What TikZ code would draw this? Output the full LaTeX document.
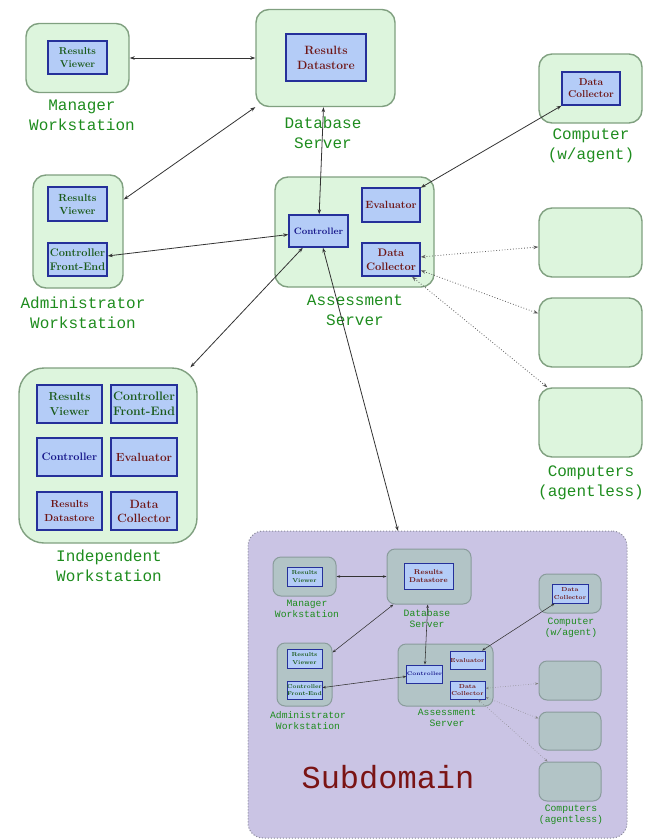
\documentclass[tikz,border=0pt]{standalone}
\usepackage{fontspec}
\newfontfamily\labelfont{Liberation Mono}
\usetikzlibrary{arrows.meta}

\definecolor{outerfill}{HTML}{DDF5DD}
\definecolor{outerline}{HTML}{80A080}
\definecolor{innerfill}{HTML}{B4CCF7}
\definecolor{innerline}{HTML}{25309A}
\definecolor{subfill}{HTML}{CAC4E4}
\definecolor{subline}{HTML}{8A8A9A}
\definecolor{subouterfill}{HTML}{B2C4C6}
\definecolor{subouterline}{HTML}{8A9C9C}
\definecolor{lblgreen}{HTML}{1E8C1E}
\definecolor{txtgreen}{HTML}{1A5A1A}
\definecolor{txtblue}{HTML}{16168A}
\definecolor{txtred}{HTML}{6E1616}
\definecolor{bigred}{HTML}{7A1414}
\definecolor{wire}{HTML}{333333}

\newcommand\fsz[2]{\fontsize{#1}{#2}\selectfont}

\tikzset{
  outer/.style={draw=outerline, fill=outerfill, line width=1.4pt, rounded corners=13pt, inner sep=0pt},
  subouter/.style={draw=subouterline, fill=subouterfill, line width=1pt, rounded corners=8pt, inner sep=0pt},
  innerbox/.style={draw=innerline, fill=innerfill, line width=1.4pt, inner sep=0pt, align=center},
  sinnerbox/.style={draw=innerline, fill=innerfill, line width=0.9pt, inner sep=0pt, align=center},
  lbl/.style={text=lblgreen, align=center, inner sep=0pt, font=\labelfont\fsz{16}{20}},
  slbl/.style={text=lblgreen, align=center, inner sep=0pt, font=\labelfont\fsz{9.7}{11.2}},
  conn/.style={draw=wire, line width=0.8pt, {Stealth[length=5pt,width=3.5pt]}-{Stealth[length=5pt,width=3.5pt]}},
  dconn/.style={conn, draw=wire!80, dotted},
  sconn/.style={draw=wire, line width=0.55pt, {Stealth[length=3.5pt,width=2.5pt]}-{Stealth[length=3.5pt,width=2.5pt]}},
  sdconn/.style={sconn, draw=wire!60, dotted},
}

\begin{document}
\begin{tikzpicture}[x=1pt,y=-1pt]
\useasboundingbox (0,0) rectangle (646,839);

% ---------------- main network ----------------
% Manager workstation
\node[outer, minimum width=103pt, minimum height=69pt] (mgr) at (77.5,58) {};
\node[innerbox, minimum width=59pt, minimum height=33pt, text=txtgreen, font=\bfseries\fsz{10}{13}] (mgrrv) at (77.5,57.5) {Results\\Viewer};
\node[lbl] (mgrlbl) at (82,115) {Manager\\Workstation};

% Database server
\node[outer, minimum width=139pt, minimum height=97pt] (db) at (325.5,58) {};
\node[innerbox, minimum width=80pt, minimum height=47pt, text=txtred, font=\bfseries\fsz{12}{15}] (dbrd) at (326,57.5) {Results\\Datastore};
\node[lbl] (dblbl) at (323,133) {Database\\Server};

% Administrator workstation
\node[outer, minimum width=90pt, minimum height=113pt] (adm) at (78,231.5) {};
\node[innerbox, minimum width=59pt, minimum height=34pt, text=txtgreen, font=\bfseries\fsz{10.3}{13}] (admrv) at (77.5,204) {Results\\Viewer};
\node[innerbox, minimum width=59pt, minimum height=33pt, text=txtgreen, font=\bfseries\fsz{11}{14}] (admcfe) at (77.5,259.5) {Controller\\Front-End};
\node[lbl] (admlbl) at (83,313) {Administrator\\Workstation};

% Assessment server
\node[outer, minimum width=159pt, minimum height=110pt] (as) at (354.5,232) {};
\node[innerbox, minimum width=59pt, minimum height=32pt, text=txtblue, font=\bfseries\fsz{9.3}{12}] (asc) at (318.5,231) {Controller};
\node[innerbox, minimum width=58pt, minimum height=34pt, text=txtred, font=\bfseries\fsz{10.5}{13}] (ase) at (391,205) {Evaluator};
\node[innerbox, minimum width=58pt, minimum height=33pt, text=txtred, font=\bfseries\fsz{10.9}{14}] (asdc) at (391,259.5) {Data\\Collector};
\node[lbl] (aslbl) at (355,310) {Assessment\\Server};

% Computer with agent
\node[outer, minimum width=103pt, minimum height=69pt] (cw) at (590.5,88.5) {};
\node[innerbox, minimum width=58pt, minimum height=33pt, text=txtred, font=\bfseries\fsz{10}{12}] (cwdc) at (591,88.5) {Data\\Collector};
\node[lbl] (cwlbl) at (591,146) {Computer\\(w/agent)};

% Agentless computers
\node[outer, minimum width=103pt, minimum height=69pt] (al1) at (590.5,242.5) {};
\node[outer, minimum width=103pt, minimum height=69pt] (al2) at (590.5,332.5) {};
\node[outer, minimum width=103pt, minimum height=69pt] (al3) at (590.5,422.5) {};
\node[lbl] (allbl) at (591,483) {Computers\\(agentless)};

% Independent workstation
\node[outer, rounded corners=25pt, minimum width=178pt, minimum height=175pt] (ind) at (108,455.5) {};
\node[innerbox, minimum width=65pt, minimum height=38pt, text=txtgreen, font=\bfseries\fsz{11.6}{15}] (indrv) at (69.5,404) {Results\\Viewer};
\node[innerbox, minimum width=66pt, minimum height=38pt, text=txtgreen, font=\bfseries\fsz{12.3}{15}] (indcfe) at (144,404) {Controller\\Front-End};
\node[innerbox, minimum width=65pt, minimum height=38pt, text=txtblue, font=\bfseries\fsz{10.8}{14}] (indc) at (69.5,457) {Controller};
\node[innerbox, minimum width=66pt, minimum height=38pt, text=txtred, font=\bfseries\fsz{11.8}{14}] (inde) at (144,457) {Evaluator};
\node[innerbox, minimum width=65pt, minimum height=38pt, text=txtred, font=\bfseries\fsz{10.2}{14}] (indrd) at (69.5,511) {Results\\Datastore};
\node[innerbox, minimum width=66pt, minimum height=38pt, text=txtred, font=\bfseries\fsz{12}{14}] (inddc) at (144,511) {Data\\Collector};
\node[lbl] (indlbl) at (109,565.5) {Independent\\Workstation};

% ---------------- subdomain ----------------
\node[draw=subline, fill=subfill, dotted, line width=1pt, rounded corners=15pt,
      minimum width=379pt, minimum height=307pt, inner sep=0pt] (sub) at (437.5,684.5) {};
\coordinate (subin) at (398,531);
\node[text=bigred, inner sep=0pt, font=\labelfont\fsz{32}{36}] (subname) at (388,777) {Subdomain};

\node[subouter, minimum width=63pt, minimum height=39pt] (smgr) at (304.5,576.5) {};
\node[sinnerbox, minimum width=35pt, minimum height=19pt, text=txtgreen, font=\bfseries\fsz{5.8}{7.5}] (smgrrv) at (304.5,576.5) {Results\\Viewer};
\node[slbl] (smgrlbl) at (307,608.5) {Manager\\Workstation};

\node[subouter, minimum width=84pt, minimum height=55pt] (sdb) at (429,576.5) {};
\node[sinnerbox, minimum width=49pt, minimum height=26pt, text=txtred, font=\bfseries\fsz{7}{8.5}] (sdbrd) at (428.5,576) {Results\\Datastore};
\node[slbl] (sdblbl) at (427,618.5) {Database\\Server};

\node[subouter, minimum width=62pt, minimum height=39pt] (scw) at (570,593.5) {};
\node[sinnerbox, minimum width=36pt, minimum height=19pt, text=txtred, font=\bfseries\fsz{5.8}{7.5}] (scwdc) at (570,593.5) {Data\\Collector};
\node[slbl] (scwlbl) at (571,627.5) {Computer\\(w/agent)};

\node[subouter, minimum width=55pt, minimum height=63pt] (sadm) at (304.5,674.5) {};
\node[sinnerbox, minimum width=35pt, minimum height=19pt, text=txtgreen, font=\bfseries\fsz{5.8}{7.5}] (sadmrv) at (304.5,658.5) {Results\\Viewer};
\node[sinnerbox, minimum width=35pt, minimum height=18pt, text=txtgreen, font=\bfseries\fsz{5.6}{7.5}] (sadmcfe) at (304.5,690) {Controller\\Front-End};
\node[slbl] (sadmlbl) at (308,720.5) {Administrator\\Workstation};

\node[subouter, minimum width=95pt, minimum height=62pt] (sas) at (445.5,675) {};
\node[sinnerbox, minimum width=35pt, minimum height=18pt, text=txtblue, font=\bfseries\fsz{5.2}{7}] (sasc) at (424.5,674) {Controller};
\node[sinnerbox, minimum width=35pt, minimum height=18pt, text=txtred, font=\bfseries\fsz{5.8}{7}] (sase) at (467.5,660) {Evaluator};
\node[sinnerbox, minimum width=35pt, minimum height=18pt, text=txtred, font=\bfseries\fsz{5.8}{7.5}] (sasdc) at (467.5,690) {Data\\Collector};
\node[slbl] (saslbl) at (447,718) {Assessment\\Server};

\node[subouter, minimum width=62pt, minimum height=39pt] (sal1) at (570,680.5) {};
\node[subouter, minimum width=62pt, minimum height=38pt] (sal2) at (570,731) {};
\node[subouter, minimum width=62pt, minimum height=39pt] (sal3) at (570,781.5) {};
\node[slbl] (sallbl) at (571,815) {Computers\\(agentless)};

% ---------------- connectors ----------------
\draw[conn] (mgr) -- (db);
\draw[conn] (db) -- (adm);
\draw[conn] (db) -- (asc);
\draw[conn] (admcfe) -- (asc);
\draw[conn] (cwdc) -- (ase);
\draw[conn] (asc) -- (ind);
\draw[conn] (asc) -- (subin);
\draw[dconn] (asdc) -- (al1);
\draw[dconn] (asdc) -- (al2);
\draw[dconn] (asdc) -- (al3);

\draw[sconn] (smgr) -- (sdb);
\draw[sconn] (sdb) -- (sadm);
\draw[sconn] (sdb) -- (sasc);
\draw[sconn] (sadmcfe) -- (sasc);
\draw[sconn] (scwdc) -- (sase);
\draw[sdconn] (sasdc) -- (sal1);
\draw[sdconn] (sasdc) -- (sal2);
\draw[sdconn] (sasdc) -- (sal3);
\end{tikzpicture}
\end{document}
